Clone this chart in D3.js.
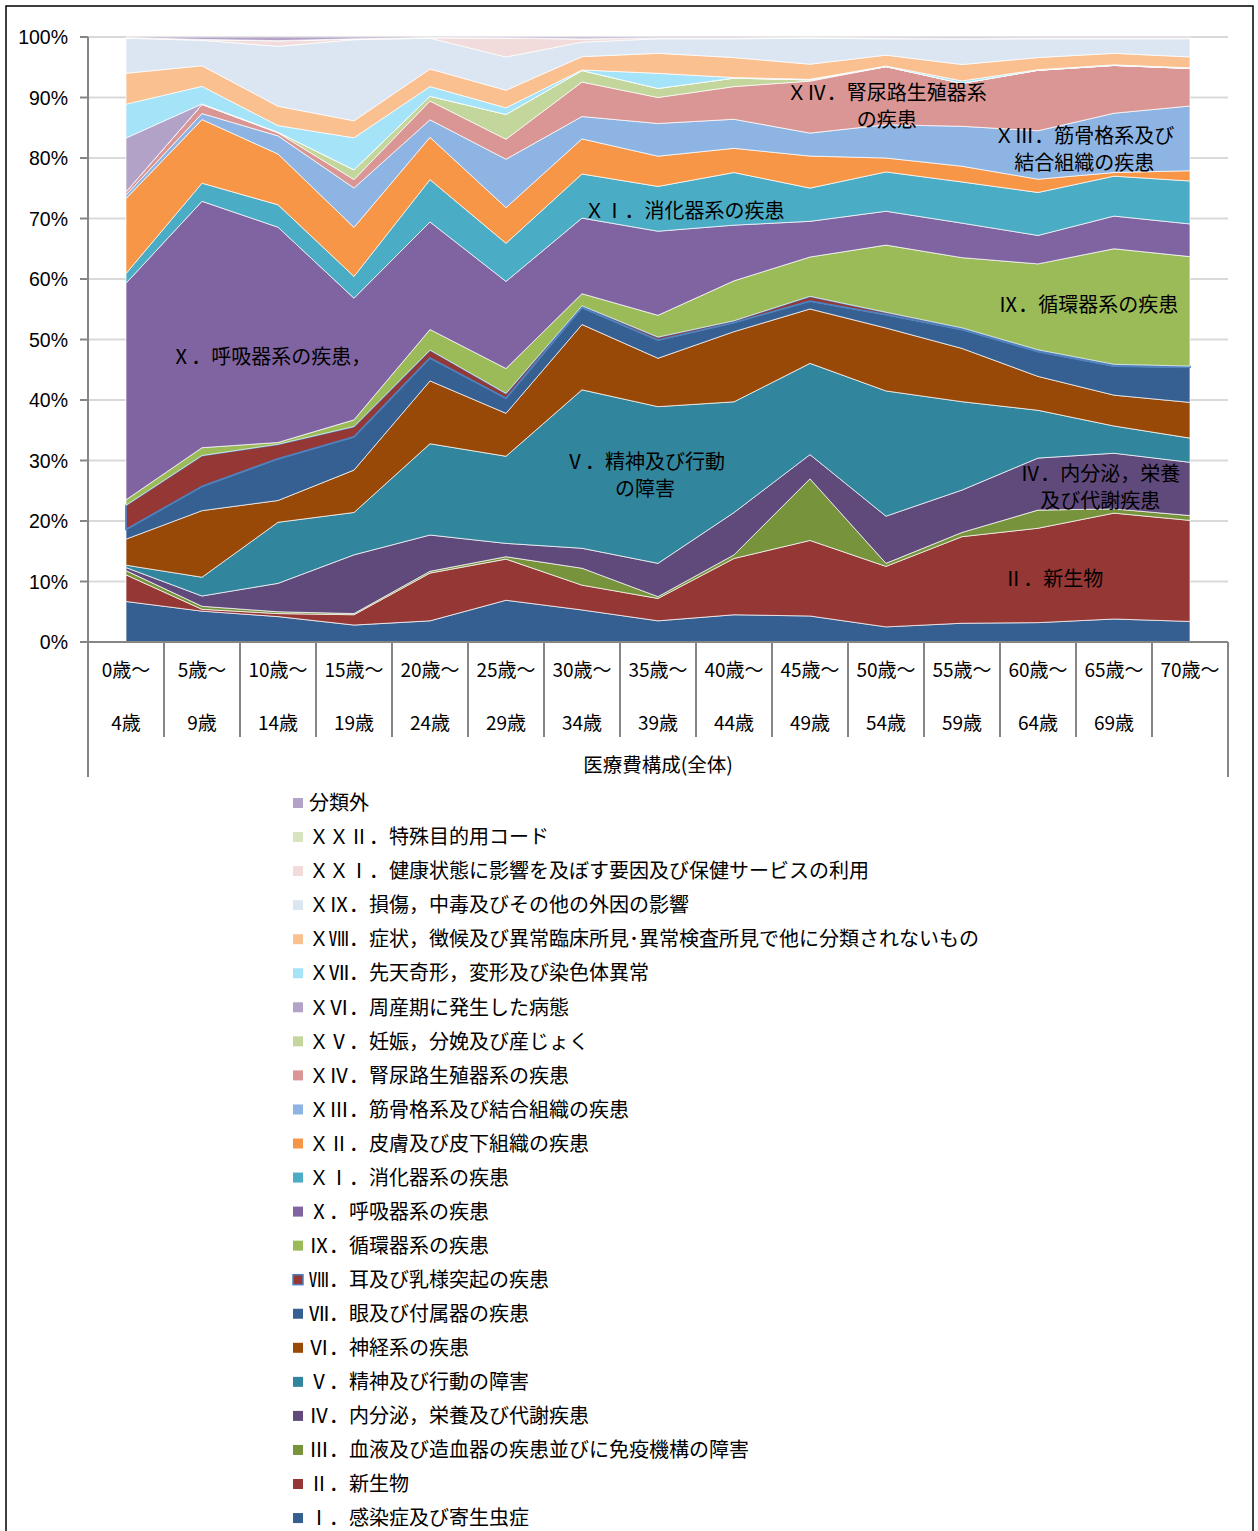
<!DOCTYPE html>
<html>
<head>
<meta charset="utf-8">
<script src="https://cdn.jsdelivr.net/npm/d3@7"></script>
<style>
  body { margin: 0; background: #fff; }
  svg text { font-family: "Noto Sans CJK JP", "Noto Sans", sans-serif; fill: #000; }
</style>
</head>
<body>
<div id="chart"></div>
<script>
// Age groups (two-line tick labels)
const ageTop = ["0歳～", "5歳～", "10歳～", "15歳～", "20歳～", "25歳～", "30歳～", "35歳～",
    "40歳～", "45歳～", "50歳～", "55歳～", "60歳～", "65歳～", "70歳～"];
const ageBottom = ["4歳", "9歳", "14歳", "19歳", "24歳", "29歳", "34歳", "39歳",
    "44歳", "49歳", "54歳", "59歳", "64歳", "69歳", ""];

// Share of medical cost (%) per disease chapter
const infectious   = [6.7, 5.1, 4.2, 2.8, 3.5, 6.9, 5.3, 3.5, 4.5, 4.3, 2.5, 3.1, 3.2, 3.8, 3.4];
const neoplasms    = [4.4, 0.3, 0.5, 1.7, 7.9, 6.8, 4.1, 3.7, 9.3, 12.5, 10.0, 14.3, 15.6, 17.5, 16.7];
const blood        = [0.7, 0.5, 0.3, 0.2, 0.3, 0.4, 2.8, 0.3, 0.6, 10.2, 0.5, 0.7, 3.0, 0.7, 0.8];
const endocrine    = [0.5, 1.7, 4.7, 9.7, 6.0, 2.2, 3.3, 5.5, 7.0, 4.0, 7.8, 7.0, 8.6, 9.2, 8.8];
const mental       = [0.4, 3.1, 10.1, 7.0, 15.1, 14.4, 26.2, 25.9, 18.3, 15.1, 20.7, 14.6, 7.9, 4.5, 4.0];
const nervous      = [4.3, 11.0, 3.6, 7.0, 10.4, 7.1, 10.8, 8.0, 11.6, 9.0, 10.4, 8.8, 5.6, 5.1, 5.9];
const eye          = [1.6, 4.0, 6.9, 5.5, 3.8, 2.5, 2.8, 3.0, 1.5, 1.3, 2.2, 3.1, 4.1, 4.8, 5.8];
const ear          = [4.0, 5.1, 2.4, 1.7, 1.3, 0.8, 0.3, 0.5, 0.3, 0.8, 0.4, 0.3, 0.3, 0.3, 0.2];
const circulatory  = [0.9, 1.3, 0.3, 1.1, 3.4, 4.1, 2.0, 3.6, 6.6, 6.5, 11.1, 11.6, 14.2, 19.1, 18.1];
const respiratory  = [35.8, 40.7, 35.6, 20.1, 17.8, 14.4, 12.5, 13.9, 9.2, 5.9, 5.6, 5.7, 4.7, 5.4, 5.4];
const digestive    = [1.6, 3.0, 3.7, 3.6, 7.0, 6.3, 7.3, 7.4, 8.7, 5.5, 6.5, 6.8, 7.1, 6.6, 7.1];
const skin         = [12.4, 10.5, 8.4, 8.1, 7.0, 5.9, 5.8, 5.0, 4.0, 5.3, 2.3, 2.6, 2.2, 0.6, 1.7];
const musculo      = [0.6, 1.0, 3.0, 6.5, 2.9, 8.0, 3.7, 5.4, 4.8, 3.8, 5.5, 6.6, 8.0, 9.8, 10.7];
const genitourinary = [0.5, 1.5, 0.5, 1.4, 3.1, 3.3, 5.7, 4.3, 5.4, 8.6, 9.6, 7.1, 10.0, 7.9, 6.2];
const pregnancy    = [0, 0, 0.1, 1.6, 0.8, 4.1, 1.9, 1.5, 1.4, 0.2, 0, 0, 0, 0, 0];
const perinatal    = [8.9, 0.1, 0, 0, 0, 0, 0, 0, 0, 0, 0, 0, 0, 0, 0];
const congenital   = [5.6, 2.9, 1.1, 5.3, 1.6, 1.1, 0.1, 2.5, 0.1, 0.1, 0.1, 0.4, 0.1, 0.1, 0.1];
const symptoms     = [5.1, 3.4, 3.2, 2.8, 2.9, 2.9, 2.2, 3.3, 3.3, 2.5, 1.8, 2.7, 2.0, 1.9, 1.8];
const injury       = [5.8, 4.2, 9.9, 13.4, 5.1, 5.5, 2.4, 2.4, 3.1, 4.3, 2.7, 4.2, 3.1, 2.4, 3.0];
const healthFactors = [0.05, 0.1, 0.9, 0.1, 0.05, 3.1, 0.5, 0.1, 0.1, 0.05, 0.1, 0.1, 0.1, 0.1, 0.1];
const specialCodes = [0.05, 0.05, 0.05, 0.05, 0.05, 0.05, 0.05, 0.05, 0.05, 0.05, 0.05, 0.05, 0.05, 0.05, 0.05];
const unclassified = [0.1, 0.4, 0.6, 0.3, 0.1, 0.15, 0.3, 0.15, 0.15, 0.1, 0.15, 0.2, 0.15, 0.15, 0.15];

// Series in stacking order (bottom to top)
const seriesNames = [
    "Ⅰ．感染症及び寄生虫症",
    "Ⅱ．新生物",
    "Ⅲ．血液及び造血器の疾患並びに免疫機構の障害",
    "Ⅳ．内分泌，栄養及び代謝疾患",
    "Ⅴ．精神及び行動の障害",
    "Ⅵ．神経系の疾患",
    "Ⅶ．眼及び付属器の疾患",
    "Ⅷ．耳及び乳様突起の疾患",
    "Ⅸ．循環器系の疾患",
    "Ⅹ．呼吸器系の疾患",
    "ＸⅠ．消化器系の疾患",
    "ＸⅡ．皮膚及び皮下組織の疾患",
    "ＸⅢ．筋骨格系及び結合組織の疾患",
    "ＸⅣ．腎尿路生殖器系の疾患",
    "ＸⅤ．妊娠，分娩及び産じょく",
    "ＸⅥ．周産期に発生した病態",
    "ＸⅦ．先天奇形，変形及び染色体異常",
    "ＸⅧ．症状，徴候及び異常臨床所見･異常検査所見で他に分類されないもの",
    "ＸⅨ．損傷，中毒及びその他の外因の影響",
    "ＸＸⅠ．健康状態に影響を及ぼす要因及び保健サービスの利用",
    "ＸＸⅡ．特殊目的用コード",
    "分類外"
];
const seriesValues = [infectious, neoplasms, blood, endocrine, mental, nervous, eye, ear,
    circulatory, respiratory, digestive, skin, musculo, genitourinary, pregnancy, perinatal,
    congenital, symptoms, injury, healthFactors, specialCodes, unclassified];
const seriesColors = ["#365F91", "#953735", "#77933C", "#604A7B", "#31859C", "#984807",
    "#366092", "#953735", "#9BBB59", "#8064A2", "#4BACC6", "#F79646",
    "#8EB4E3", "#D99694", "#C3D69B", "#B3A2C7", "#A5E3F9", "#FAC090",
    "#DCE6F2", "#F2DCDB", "#D7E4BD", "#B3A2C7"];

const yTicks = [0, 0.1, 0.2, 0.3, 0.4, 0.5, 0.6, 0.7, 0.8, 0.9, 1.0];

// In-chart labels: [lines, category index, share]
const annotations = [
    [["Ⅹ．呼吸器系の疾患，"], 1.91, 0.471],
    [["ＸⅠ．消化器系の疾患"], 7.35, 0.712],
    [["ＸⅣ．腎尿路生殖器系", "の疾患"], 10.01, 0.886],
    [["ＸⅢ．筋骨格系及び", "結合組織の疾患"], 12.61, 0.814],
    [["Ⅸ．循環器系の疾患"], 12.66, 0.557],
    [["Ⅴ．精神及び行動", "の障害"], 6.83, 0.275],
    [["Ⅳ．内分泌，栄養", "及び代謝疾患"], 12.82, 0.256],
    [["Ⅱ．新生物"], 12.2, 0.104]
];

const W = 1258, H = 1531;
const plotL = 88, plotR = 1228, plotT = 37, plotB = 642;

const svg = d3.select("#chart").append("svg")
    .attr("width", W)
    .attr("height", H);

svg.append("rect")
    .attr("x", 6).attr("y", 6)
    .attr("width", 1247).attr("height", 1540)
    .attr("fill", "#fff")
    .attr("stroke", "#000")
    .attr("stroke-width", 1.5);

// Scales
const idx = d3.range(ageTop.length);
const band = d3.scaleBand().domain(idx).range([plotL, plotR]);
const x = d3.scalePoint().domain(idx).range([plotL, plotR]).padding(0.5);
const xi = d3.scaleLinear().domain([0, idx.length - 1]).range([x(0), x(idx.length - 1)]);
const y = d3.scaleLinear().domain([0, 1]).range([plotB, plotT]);

// Gridlines
svg.append("g")
    .selectAll("line")
    .data(yTicks.slice(1))
    .enter()
    .append("line")
    .attr("x1", plotL).attr("x2", plotR)
    .attr("y1", d => y(d)).attr("y2", d => y(d))
    .attr("stroke", "#D9D9D9")
    .attr("stroke-width", 2);

// Stack data
const rows = idx.map(i => {
    const row = { age: i };
    seriesNames.forEach((name, k) => row[name] = seriesValues[k][i]);
    return row;
});
const stacked = d3.stack()
    .keys(seriesNames)
    .offset(d3.stackOffsetExpand)(rows);

const area = d3.area()
    .x(d => x(d.data.age))
    .y0(d => y(d[0]))
    .y1(d => y(d[1]));

svg.append("g")
    .selectAll("path")
    .data(stacked)
    .enter()
    .append("path")
    .attr("d", area)
    .attr("fill", (d, i) => seriesColors[i])
    .attr("stroke", (d, i) => i === 7 ? "#4F81BD" : "#fff")
    .attr("stroke-width", (d, i) => i === 7 ? 1.8 : 0.7)
    .attr("stroke-linejoin", "round");

// Y axis
const yAxis = svg.append("g");
yAxis.append("line")
    .attr("x1", plotL).attr("x2", plotL)
    .attr("y1", plotT).attr("y2", 777)
    .attr("stroke", "#868686")
    .attr("stroke-width", 2);
yAxis.selectAll(".tick")
    .data(yTicks)
    .enter()
    .append("line")
    .attr("x1", plotL - 8).attr("x2", plotL)
    .attr("y1", d => y(d)).attr("y2", d => y(d))
    .attr("stroke", "#868686")
    .attr("stroke-width", 2);
yAxis.selectAll("text")
    .data(yTicks)
    .enter()
    .append("text")
    .attr("x", 68)
    .attr("y", d => y(d))
    .attr("dy", "0.36em")
    .attr("text-anchor", "end")
    .style("font-family", "'Liberation Sans', Arial, sans-serif")
    .style("font-size", "19.5px")
    .text(d => Math.round(d * 100) + "%");

// X axis
const xAxis = svg.append("g");
xAxis.append("line")
    .attr("x1", plotL).attr("x2", plotR)
    .attr("y1", plotB).attr("y2", plotB)
    .attr("stroke", "#868686")
    .attr("stroke-width", 2);
const bounds = idx.map(i => band(i)).concat([plotR]);
xAxis.selectAll(".sep")
    .data(bounds)
    .enter()
    .append("line")
    .attr("x1", d => d).attr("x2", d => d)
    .attr("y1", plotB)
    .attr("y2", (d, i) => (i === 0 || i === bounds.length - 1) ? 777 : 737)
    .attr("stroke", "#868686")
    .attr("stroke-width", 2);
xAxis.selectAll(".top")
    .data(idx)
    .enter()
    .append("text")
    .attr("x", d => x(d))
    .attr("y", 670)
    .attr("dy", "0.36em")
    .attr("text-anchor", "middle")
    .style("font-size", "19px")
    .text(d => ageTop[d]);
xAxis.selectAll(".bot")
    .data(idx)
    .enter()
    .append("text")
    .attr("x", d => x(d))
    .attr("y", 723)
    .attr("dy", "0.36em")
    .attr("text-anchor", "middle")
    .style("font-size", "19px")
    .text(d => ageBottom[d]);
xAxis.append("text")
    .attr("x", (plotL + plotR) / 2)
    .attr("y", 765)
    .attr("dy", "0.36em")
    .attr("text-anchor", "middle")
    .style("font-size", "19.5px")
    .text("医療費構成(全体)");

// Labels inside the chart
const ann = svg.append("g");
annotations.forEach(([lines, ci, share]) => {
    const cx = xi(ci), cy = y(share);
    lines.forEach((line, j) => {
        ann.append("text")
            .attr("x", cx)
            .attr("y", cy + (j - (lines.length - 1) / 2) * 27)
            .attr("dy", "0.36em")
            .attr("text-anchor", "middle")
            .style("font-size", "20px")
            .text(line);
    });
});

// Legend (top to bottom = reverse stacking order)
const legend = svg.append("g");
const legendOrder = d3.range(seriesNames.length).reverse();
legendOrder.forEach((k, j) => {
    const cy = 803 + j * 34.05;
    legend.append("rect")
        .attr("x", 293).attr("y", cy - 5)
        .attr("width", 10).attr("height", 10)
        .attr("fill", seriesColors[k])
        .attr("stroke", k === 7 ? "#4F81BD" : "none")
        .attr("stroke-width", 1.5);
    legend.append("text")
        .attr("x", 309)
        .attr("y", cy)
        .attr("dy", "0.36em")
        .style("font-size", "20px")
        .text(seriesNames[k]);
});
</script>
</body>
</html>
